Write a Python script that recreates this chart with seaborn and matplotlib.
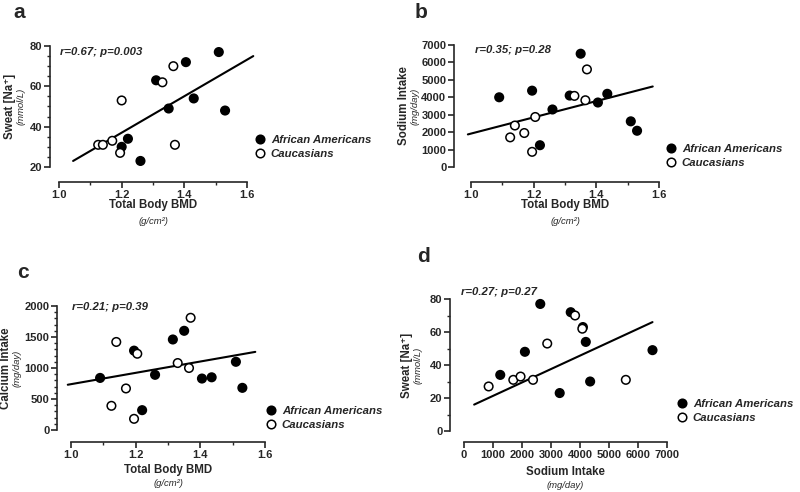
import numpy as np
import pandas as pd
import matplotlib
matplotlib.use('Agg')
import matplotlib.pyplot as plt
import seaborn as sns
from matplotlib.ticker import MultipleLocator

sns.set_style('ticks')
plt.rcParams['font.family'] = ['Liberation Sans', 'DejaVu Sans']

# values
groups = ['African Americans', 'Caucasians']

# panel a: BMD vs sweat sodium
a_bmd_aa = [1.20, 1.22, 1.26, 1.31, 1.35, 1.405, 1.43, 1.51, 1.53]
a_na_aa = [30, 34, 23, 63, 49, 72, 54, 77, 48]
a_bmd_ca = [1.125, 1.14, 1.17, 1.20, 1.195, 1.33, 1.365, 1.37]
a_na_ca = [31, 31, 33, 53, 27, 62, 70, 31]

# panel b: BMD vs sodium intake
b_bmd_aa = [1.09, 1.195, 1.22, 1.26, 1.315, 1.35, 1.405, 1.435, 1.51, 1.53]
b_sod_aa = [4000, 4380, 1250, 3300, 4100, 6500, 3700, 4200, 2620, 2080]
b_bmd_ca = [1.125, 1.14, 1.17, 1.195, 1.205, 1.33, 1.365, 1.37]
b_sod_ca = [1700, 2380, 1950, 870, 2870, 4080, 3830, 5600]

# panel c: BMD vs calcium intake
c_bmd_aa = [1.09, 1.195, 1.22, 1.26, 1.315, 1.35, 1.405, 1.435, 1.51, 1.53]
c_cal_aa = [840, 1280, 320, 890, 1460, 1600, 830, 850, 1100, 680]
c_bmd_ca = [1.125, 1.14, 1.17, 1.195, 1.205, 1.33, 1.365, 1.37]
c_cal_ca = [390, 1420, 670, 180, 1230, 1080, 1000, 1810]

# panel d: sodium intake vs sweat sodium
d_sod_aa = [1250, 2100, 2630, 3300, 3680, 4100, 4200, 4350, 6500]
d_na_aa = [34, 48, 77, 23, 72, 63, 54, 30, 49]
d_sod_ca = [850, 1700, 1950, 2380, 2870, 3830, 4080, 5580]
d_na_ca = [27, 31, 33, 31, 53, 70, 62, 31]

# fitted lines (end points)
a_fit_x, a_fit_y = [1.045, 1.62], [23, 75]
b_fit_x, b_fit_y = [0.99, 1.58], [1870, 4620]
c_fit_x, c_fit_y = [0.99, 1.57], [730, 1260]
d_fit_x, d_fit_y = [350, 6500], [16, 66]

stats = ['r=0.67; p=0.003', 'r=0.35; p=0.28', 'r=0.21; p=0.39', 'r=0.27; p=0.27']


def make_df(x_aa, y_aa, x_ca, y_ca):
    return pd.DataFrame({
        'x': list(x_aa) + list(x_ca),
        'y': list(y_aa) + list(y_ca),
        'Group': [groups[0]] * len(x_aa) + [groups[1]] * len(x_ca),
    })


W, H = 800, 492
fig = plt.figure(figsize=(8, 4.92), dpi=100)


def px_axes(left, top, right, bottom):
    return fig.add_axes([left / W, 1 - bottom / H, (right - left) / W, (bottom - top) / H])


panels = [
    dict(box=(59, 46, 247, 167), df=make_df(a_bmd_aa, a_na_aa, a_bmd_ca, a_na_ca),
         fit=(a_fit_x, a_fit_y), xlim=(1.0, 1.6), ylim=(20, 80), xmaj=0.2, xmin=0.1,
         ymaj=20, ymin=5, fmt='{:.1f}', off=(9, 15), letter='a', lpos=(13, 13),
         ylab='Sweat [Na⁺]', ysub='(mmol/L)', ylx=(10, 21), xlab='Total Body BMD',
         xsub='(g/cm²)', xly=(205, 221), stat_pos=(60, 52), leg=(256, 138)),
    dict(box=(471, 45, 659, 167), df=make_df(b_bmd_aa, b_sod_aa, b_bmd_ca, b_sod_ca),
         fit=(b_fit_x, b_fit_y), xlim=(1.0, 1.6), ylim=(0, 7000), xmaj=0.2, xmin=0.1,
         ymaj=1000, ymin=None, fmt='{:.1f}', off=(17, 15), letter='b', lpos=(415, 12),
         ylab='Sodium Intake', ysub='(mg/day)', ylx=(404, 415), xlab='Total Body BMD',
         xsub='(g/cm²)', xly=(205, 221), stat_pos=(475, 50), leg=(667, 147)),
    dict(box=(71, 306, 265, 430), df=make_df(c_bmd_aa, c_cal_aa, c_bmd_ca, c_cal_ca),
         fit=(c_fit_x, c_fit_y), xlim=(1.0, 1.6), ylim=(0, 2000), xmaj=0.2, xmin=0.1,
         ymaj=500, ymin=100, fmt='{:.1f}', off=(14, 12), letter='c', lpos=(17, 272),
         ylab='Calcium Intake', ysub='(mg/day)', ylx=(6, 17), xlab='Total Body BMD',
         xsub='(g/cm²)', xly=(470, 484), stat_pos=(72, 307), leg=(267, 409)),
    dict(box=(464, 299, 667, 431), df=make_df(d_sod_aa, d_na_aa, d_sod_ca, d_na_ca),
         fit=(d_fit_x, d_fit_y), xlim=(0, 7000), ylim=(0, 80), xmaj=1000, xmin=None,
         ymaj=20, ymin=10, fmt='{:.0f}', off=(14, 11), letter='d', lpos=(417, 257),
         ylab='Sweat [Na⁺]', ysub='(mmol/L)', ylx=(407, 418), xlab='Sodium Intake',
         xsub='(mg/day)', xly=(472, 486), stat_pos=(461, 292), leg=(678, 402)),
]

pal = {groups[0]: 'black', groups[1]: 'white'}

for i, p in enumerate(panels):
    ax = px_axes(*p['box'])
    sns.scatterplot(data=p['df'], x='x', y='y', hue='Group', palette=pal,
                    edgecolor='black', linewidth=1.1, s=38, ax=ax, clip_on=False,
                    zorder=3)
    ax.plot(p['fit'][0], p['fit'][1], color='black', lw=1.5, clip_on=False, zorder=2)
    ax.set_xlim(*p['xlim'])
    ax.set_ylim(*p['ylim'])
    ax.xaxis.set_major_locator(MultipleLocator(p['xmaj']))
    ax.yaxis.set_major_locator(MultipleLocator(p['ymaj']))
    if p['xmin']:
        ax.xaxis.set_minor_locator(MultipleLocator(p['xmin']))
    if p['ymin']:
        ax.yaxis.set_minor_locator(MultipleLocator(p['ymin']))
    fmt = p['fmt']
    ax.set_xticks(ax.get_xticks())
    ax.set_xticklabels([fmt.format(t) for t in ax.get_xticks()])
    ax.set_xlim(*p['xlim'])
    sns.despine(ax=ax)
    ax.spines['left'].set_position(('outward', p['off'][0] * 0.72))
    ax.spines['bottom'].set_position(('outward', p['off'][1] * 0.72))
    for s in ['left', 'bottom']:
        ax.spines[s].set_linewidth(1.2)
    ax.tick_params(which='major', length=4, width=1.2, labelsize=8, pad=1.5)
    ax.tick_params(which='minor', length=2.5, width=1.0)
    for lab in ax.get_xticklabels() + ax.get_yticklabels():
        lab.set_fontweight('bold')
    ax.set_xlabel('')
    ax.set_ylabel('')
    ax.set_facecolor('none')

    # legend outside the axes
    handles, labels = ax.get_legend_handles_labels()
    lx, ly = p['leg']
    ax.legend(handles, labels, loc='center left', frameon=False,
              bbox_to_anchor=((lx - 9) / W, 1 - (ly + 9) / H),
              bbox_transform=fig.transFigure, handletextpad=0.4,
              labelspacing=0.35, borderpad=0, handlelength=1.2,
              prop={'weight': 'bold', 'style': 'italic', 'size': 8.2})

    # texts placed in figure pixels
    fig.text(p['lpos'][0] / W, 1 - p['lpos'][1] / H, p['letter'], fontsize=15,
             fontweight='bold', ha='left', va='center')
    cy = (p['box'][1] + p['box'][3]) / 2
    fig.text(p['ylx'][0] / W, 1 - cy / H, p['ylab'], rotation=90, fontsize=8.3,
             fontweight='bold', ha='center', va='center')
    fig.text(p['ylx'][1] / W, 1 - cy / H, p['ysub'], rotation=90, fontsize=6.8,
             fontstyle='italic', ha='center', va='center')
    cx = (p['box'][0] + p['box'][2]) / 2
    fig.text(cx / W, 1 - p['xly'][0] / H, p['xlab'], fontsize=8.3,
             fontweight='bold', ha='center', va='center')
    fig.text(cx / W, 1 - p['xly'][1] / H, p['xsub'], fontsize=6.8,
             fontstyle='italic', ha='center', va='center')
    fig.text(p['stat_pos'][0] / W, 1 - p['stat_pos'][1] / H, stats[i], fontsize=8.2,
             fontweight='bold', fontstyle='italic', ha='left', va='center')

fig.savefig('out.png', dpi=100)
